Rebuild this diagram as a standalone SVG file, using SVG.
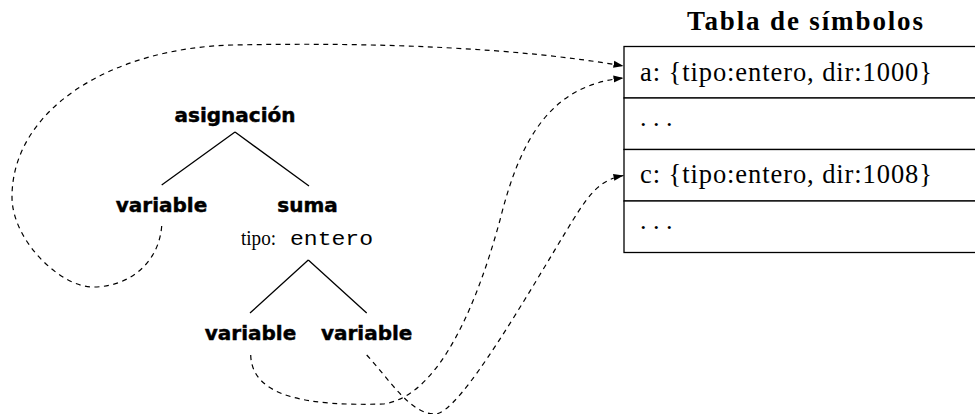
<svg xmlns="http://www.w3.org/2000/svg" width="975" height="414" viewBox="0 0 975 414">
<style>
.lbl{font-family:"DejaVu Sans","Liberation Sans",sans-serif;font-weight:bold;font-size:20px;text-anchor:middle;fill:#000;stroke:#000;stroke-width:0.45}
.rm{font-family:"Liberation Serif","Times New Roman",serif;fill:#000}
.tt{font-family:"Liberation Mono","Courier New",monospace;fill:#000}
.edge{stroke:#000;stroke-width:1.3;fill:none}
.ref{stroke:#000;stroke-width:1.2;fill:none;stroke-dasharray:5 4.5;marker-end:url(#arr)}
.cell{stroke:#000;stroke-width:1.3;fill:#fff}
</style>
<defs>
<marker id="arr" markerUnits="userSpaceOnUse" markerWidth="10" markerHeight="8" refX="10" refY="4" orient="auto">
<path d="M0,0.5 L10,4 L0,7.5 z" fill="#000"/>
</marker>
</defs>
<rect width="975" height="414" fill="#fff"/>
<g id="tabla">
<text class="rm" x="805" y="30" font-size="27" font-weight="bold" text-anchor="middle" textLength="236" lengthAdjust="spacing">Tabla de símbolos</text>
<g id="fila-a"><rect class="cell" x="624" y="46.5" width="400" height="51.5"/><text class="rm" x="640" y="81" font-size="26.5" textLength="292" lengthAdjust="spacing">a: {tipo:entero, dir:1000}</text></g>
<g id="fila-2"><rect class="cell" x="624" y="98" width="400" height="51.5"/><text class="rm" x="640" y="125.5" font-size="26">. . .</text></g>
<g id="fila-c"><rect class="cell" x="624" y="149.5" width="400" height="51.5"/><text class="rm" x="640" y="183" font-size="26.5" textLength="292" lengthAdjust="spacing">c: {tipo:entero, dir:1008}</text></g>
<g id="fila-4"><rect class="cell" x="624" y="201" width="400" height="51.5"/><text class="rm" x="640" y="228.5" font-size="26">. . .</text></g>
</g>
<g id="asignacion"><text class="lbl" x="235" y="121.7">asignación</text></g>
<g id="variable1"><text class="lbl" x="161.5" y="212.3">variable</text></g>
<g id="suma"><text class="lbl" x="307.5" y="212.3">suma</text>
<text class="rm" x="241" y="245" font-size="21" textLength="35" lengthAdjust="spacingAndGlyphs">tipo:</text>
<text class="tt" x="290" y="245" font-size="21" textLength="83" lengthAdjust="spacingAndGlyphs">entero</text></g>
<g id="variable2"><text class="lbl" x="250.5" y="340">variable</text></g>
<g id="variable3"><text class="lbl" x="366.7" y="340">variable</text></g>
<g id="conectores">
<path class="edge" d="M235,132 L161.7,185 M235,132 L309,186"/>
<path class="edge" d="M308.3,260 L250,313 M308.3,260 L366.7,313"/>
<path class="ref" d="M161.7,226 C159,262 130,287 93,287 C60,287 12,240 12,197 C12,110 110,48 233,45 C380,42 520,48 623.5,66"/>
<path class="ref" d="M250.7,355 C252,398 310,406 383,404 C430,398 470,330 500,220 C520,140 550,85 623.5,78"/>
<path class="ref" d="M366.7,355 C390,380 410,414 435,414 C460,414 530,290 573,220 C590,193 600,180 623.5,175.5"/>
</g>
</svg>
